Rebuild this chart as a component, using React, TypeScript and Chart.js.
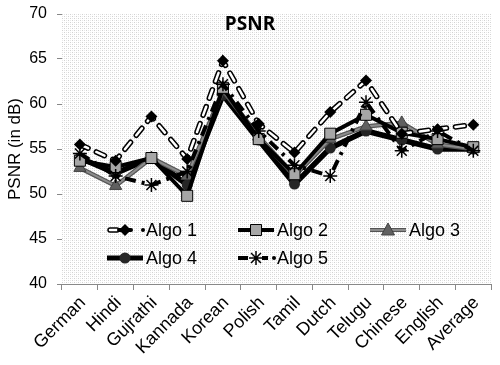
import React, { useEffect, useRef } from "react";
import { Chart, registerables } from "chart.js";

Chart.register(...registerables);

const categories = ["German", "Hindi", "Gujrathi", "Kannada", "Korean", "Polish", "Tamil", "Dutch", "Telugu", "Chinese", "English", "Average"];
const algo1 = [55.5, 53.7, 58.6, 53.9, 64.8, 57.8, 54.6, 59.1, 62.6, 56.7, 57.2, 57.7];
const algo2 = [53.7, 53.0, 54.0, 49.8, 61.8, 56.1, 52.2, 56.7, 58.8, 56.8, 56.1, 55.2];
const algo3 = [52.9, 50.9, 54.0, 52.0, 61.5, 56.4, 52.0, 56.1, 57.5, 57.9, 55.5, 55.0];
const algo4 = [54.0, 52.3, 54.0, 51.0, 61.0, 56.0, 51.1, 55.1, 57.0, 56.0, 55.0, 55.0];
const algo5 = [54.5, 52.0, 51.0, 52.5, 62.2, 57.0, 53.2, 52.0, 60.2, 54.8, 57.0, 54.8];
const yTicks = [40, 45, 50, 55, 60, 65, 70];
const legendNames = ["Algo 1", "Algo 2", "Algo 3", "Algo 4", "Algo 5"];

const FONT = "'Liberation Sans', Arial, sans-serif";

function makePattern(ctx: CanvasRenderingContext2D) {
  const c = document.createElement("canvas");
  c.width = 4;
  c.height = 4;
  const p = c.getContext("2d")!;
  p.fillStyle = "#ffffff";
  p.fillRect(0, 0, 4, 4);
  p.fillStyle = "#d2d2d2";
  p.fillRect(0, 0, 1, 1);
  p.fillRect(2, 2, 1, 1);
  p.fillStyle = "#e8e8e8";
  p.fillRect(2, 0, 1, 1);
  p.fillRect(0, 2, 1, 1);
  return ctx.createPattern(c, "repeat");
}

function marker(ctx: CanvasRenderingContext2D, style: string, x: number, y: number) {
  ctx.save();
  ctx.setLineDash([]);
  ctx.beginPath();
  if (style === "diamond") {
    ctx.moveTo(x, y - 6);
    ctx.lineTo(x + 6, y);
    ctx.lineTo(x, y + 6);
    ctx.lineTo(x - 6, y);
    ctx.closePath();
    ctx.fillStyle = "#000";
    ctx.fill();
  } else if (style === "square") {
    ctx.rect(x - 5.5, y - 5.5, 11, 11);
    ctx.fillStyle = "#a6a6a6";
    ctx.fill();
    ctx.strokeStyle = "#000";
    ctx.lineWidth = 1;
    ctx.stroke();
  } else if (style === "triangle") {
    ctx.moveTo(x, y - 7);
    ctx.lineTo(x + 6.5, y + 5);
    ctx.lineTo(x - 6.5, y + 5);
    ctx.closePath();
    ctx.fillStyle = "#606060";
    ctx.fill();
    ctx.strokeStyle = "#404040";
    ctx.lineWidth = 1;
    ctx.stroke();
  } else if (style === "circle") {
    ctx.arc(x, y, 5.5, 0, Math.PI * 2);
    ctx.fillStyle = "#262626";
    ctx.fill();
  } else if (style === "star") {
    for (let i = 0; i < 4; i++) {
      const a = (i * Math.PI) / 4;
      ctx.moveTo(x - 7 * Math.cos(a), y - 7 * Math.sin(a));
      ctx.lineTo(x + 7 * Math.cos(a), y + 7 * Math.sin(a));
    }
    ctx.strokeStyle = "#000";
    ctx.lineWidth = 1.5;
    ctx.stroke();
  }
  ctx.restore();
}

const overlayPlugin = {
  id: "overlay",
  beforeDatasetsDraw(chart: any) {
    const { ctx, chartArea } = chart;
    ctx.save();
    ctx.fillStyle = makePattern(ctx) || "#eee";
    ctx.fillRect(chartArea.left, chartArea.top, chartArea.right - chartArea.left, chartArea.bottom - chartArea.top);
    ctx.restore();
  },
  afterDatasetsDraw(chart: any) {
    const { ctx, chartArea } = chart;
    const xs = chart.scales.x;
    ctx.save();
    // x labels
    ctx.font = `18px ${FONT}`;
    ctx.fillStyle = "#000";
    ctx.textAlign = "right";
    ctx.textBaseline = "middle";
    categories.forEach((c, i) => {
      const px = xs.getPixelForTick(i);
      ctx.save();
      ctx.translate(px + 3, chartArea.bottom + 16);
      ctx.rotate(-Math.PI / 4);
      ctx.fillText(c, 0, 0);
      ctx.restore();
    });

    // title
    ctx.font = "bold 19px 'Open Sans', sans-serif";
    ctx.fillStyle = "#000";
    ctx.textAlign = "center";
    ctx.textBaseline = "middle";
    ctx.fillText("PSNR", 250, 25);

    // legend
    const entries = [
      { x: 107, y: 230, style: "diamond", name: legendNames[0] },
      { x: 238, y: 230, style: "square", name: legendNames[1] },
      { x: 370, y: 230, style: "triangle", name: legendNames[2] },
      { x: 107, y: 258, style: "circle", name: legendNames[3] },
      { x: 238, y: 258, style: "star", name: legendNames[4] },
    ];
    entries.forEach((e) => {
      const x0 = e.x;
      const x1 = e.x + 36;
      const cx = e.x + 18;
      ctx.save();
      ctx.lineCap = "butt";
      if (e.style === "diamond") {
        ctx.lineCap = "round";
        ctx.strokeStyle = "#000";
        ctx.lineWidth = 5.5;
        ctx.beginPath();
        ctx.moveTo(x0 + 3, e.y);
        ctx.lineTo(x0 + 10, e.y);
        ctx.stroke();
        ctx.strokeStyle = "#fff";
        ctx.lineWidth = 2.5;
        ctx.stroke();
        ctx.strokeStyle = "#000";
        ctx.lineWidth = 4;
        ctx.beginPath();
        ctx.moveTo(x0 + 12, e.y);
        ctx.lineTo(x0 + 24, e.y);
        ctx.stroke();
        ctx.fillStyle = "#000";
        ctx.beginPath();
        ctx.arc(x1, e.y, 2, 0, Math.PI * 2);
        ctx.fill();
      } else if (e.style === "square") {
        ctx.strokeStyle = "#000";
        ctx.lineWidth = 4;
        ctx.beginPath();
        ctx.moveTo(x0, e.y);
        ctx.lineTo(x1, e.y);
        ctx.stroke();
      } else if (e.style === "triangle") {
        ctx.strokeStyle = "#555";
        ctx.lineWidth = 4;
        ctx.beginPath();
        ctx.moveTo(x0, e.y);
        ctx.lineTo(x1, e.y);
        ctx.stroke();
        ctx.strokeStyle = "#8c8c8c";
        ctx.lineWidth = 2;
        ctx.stroke();
      } else if (e.style === "circle") {
        ctx.strokeStyle = "#000";
        ctx.lineWidth = 5;
        ctx.beginPath();
        ctx.moveTo(x0, e.y);
        ctx.lineTo(x1, e.y);
        ctx.stroke();
      } else if (e.style === "star") {
        ctx.strokeStyle = "#000";
        ctx.lineWidth = 4;
        ctx.beginPath();
        ctx.moveTo(x0, e.y);
        ctx.lineTo(x0 + 10, e.y);
        ctx.moveTo(x0 + 24, e.y);
        ctx.lineTo(x0 + 30, e.y);
        ctx.stroke();
        ctx.fillStyle = "#000";
        ctx.beginPath();
        ctx.arc(x1, e.y, 2, 0, Math.PI * 2);
        ctx.fill();
      }
      ctx.restore();
      marker(ctx, e.style, cx, e.y);
      ctx.font = `18px ${FONT}`;
      ctx.fillStyle = "#000";
      ctx.textAlign = "left";
      ctx.textBaseline = "middle";
      ctx.fillText(e.name, x1 + 3, e.y + 1);
    });
    ctx.restore();
  },
};

export default function App() {
  const ref = useRef<HTMLCanvasElement>(null);
  useEffect(() => {
    if (!ref.current) return;
    const chart = new Chart(ref.current, {
      type: "line",
      data: {
        labels: categories,
        datasets: [
          {
            label: legendNames[0] + " markers",
            data: algo1,
            showLine: false,
            pointStyle: "rectRot",
            pointRadius: 6,
            pointBackgroundColor: "#000",
            pointBorderColor: "#000",
            pointBorderWidth: 0,
          },
          {
            label: legendNames[0] + " inner",
            data: algo1,
            borderColor: "#ffffff",
            borderWidth: 2.5,
            borderDash: [9, 9],
            borderCapStyle: "round",
            pointRadius: 0,
          },
          {
            label: legendNames[0],
            data: algo1,
            borderColor: "#000",
            borderWidth: 5.5,
            borderDash: [9, 9],
            borderCapStyle: "round",
            pointRadius: 0,
          },
          {
            label: legendNames[4],
            data: algo5,
            borderColor: "#000",
            borderWidth: 4,
            borderDash: [11, 6, 3, 6],
            pointStyle: "star",
            pointRadius: 7,
            pointBorderColor: "#000",
            pointBorderWidth: 1.5,
          },
          {
            label: legendNames[1],
            data: algo2,
            borderColor: "#000",
            borderWidth: 4,
            pointStyle: "rect",
            pointRadius: 7.8,
            pointBackgroundColor: "#a6a6a6",
            pointBorderColor: "#000",
            pointBorderWidth: 1,
          },
          {
            label: legendNames[2],
            data: algo3,
            borderColor: "#8c8c8c",
            borderWidth: 2,
            pointStyle: "triangle",
            pointRadius: 7,
            pointBackgroundColor: "#606060",
            pointBorderColor: "#404040",
            pointBorderWidth: 1,
          },
          {
            label: legendNames[2] + " edge",
            data: algo3,
            borderColor: "#555",
            borderWidth: 4.5,
            pointRadius: 0,
          },
          {
            label: legendNames[3],
            data: algo4,
            borderColor: "#000",
            borderWidth: 5.5,
            pointStyle: "circle",
            pointRadius: 5.5,
            pointBackgroundColor: "#262626",
            pointBorderColor: "#262626",
            pointBorderWidth: 0,
          },
        ],
      },
      options: {
        animation: false,
        responsive: false,
        maintainAspectRatio: false,
        layout: { padding: { top: 14, right: 7, left: 0, bottom: 0 } },
        plugins: {
          legend: { display: false },
          tooltip: { enabled: false },
          title: { display: false },
        },
        scales: {
          x: {
            offset: true,
            grid: {
              display: true,
              offset: true,
              drawOnChartArea: false,
              drawTicks: true,
              tickLength: 6,
              color: "#888",
            },
            border: { display: true, color: "#888", width: 1 },
            ticks: {
              display: false,
              autoSkip: false,
            },
            afterFit(scale: any) {
              scale.height = 81;
              scale.paddingLeft = 0;
              scale.paddingRight = 0;
            },
          },
          y: {
            min: 40,
            max: 70,
            afterBuildTicks(scale: any) {
              scale.ticks = yTicks.map((v) => ({ value: v }));
            },
            grid: {
              display: true,
              drawOnChartArea: false,
              drawTicks: true,
              tickLength: 5,
              color: "#888",
            },
            border: { display: true, color: "#888", width: 1 },
            ticks: {
              padding: 10,
              color: "#000",
              font: { family: FONT, size: 16 },
            },
            title: {
              display: true,
              text: "PSNR (in dB)",
              color: "#000",
              font: { family: FONT, size: 17 },
              padding: { top: 5, bottom: 0 },
            },
            afterFit(scale: any) {
              scale.width = 62;
              scale.paddingTop = 0;
              scale.paddingBottom = 0;
            },
          },
        },
      },
      plugins: [overlayPlugin],
    });
    return () => chart.destroy();
  }, []);
  return (
    <div style={{ position: "absolute", left: 0, top: 0, width: 500, height: 365 }}>
      <canvas ref={ref} width={500} height={365} style={{ width: 500, height: 365 }} />
    </div>
  );
}
